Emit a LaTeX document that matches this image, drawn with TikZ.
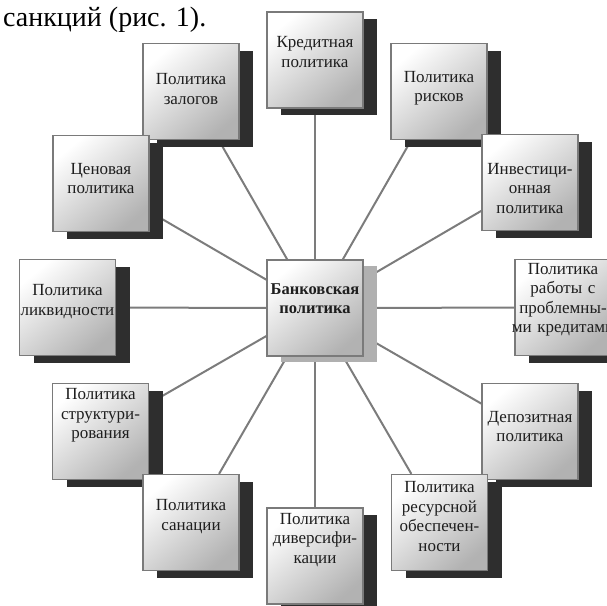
\documentclass[tikz,border=0pt]{standalone}
\usepackage{fontspec}
\setmainfont{Liberation Serif}
\usetikzlibrary{shadows,backgrounds}
\definecolor{boxline}{HTML}{7A7A7A}
\definecolor{linkgray}{HTML}{7C7C7C}
\definecolor{shadowdark}{HTML}{2E2E2E}
\definecolor{shadowlight}{HTML}{B0B0B0}
\definecolor{inktext}{HTML}{1E1E1E}
\begin{document}
\begin{tikzpicture}[x=1pt,y=-1pt,
  % y grows downwards here, which turns the shading upside down as well
  boxbase/.style={draw=boxline, line width=1.3pt, minimum width=96pt, minimum height=96pt,
    inner sep=0pt, top color=white, middle color=black!4, bottom color=black!30,
    shading angle=40},
  pbox/.style={boxbase,
    drop shadow={shadow xshift=14pt, shadow yshift=-7pt, fill=shadowdark, opacity=1}},
  cbox/.style={boxbase,
    drop shadow={shadow xshift=14pt, shadow yshift=-6pt, fill=shadowlight, opacity=1}},
  ptext/.style={text width=110pt, align=center, inner sep=0pt, text=inktext,
    font=\fontsize{17}{19.5}\selectfont},
  ctext/.style={ptext, font=\fontsize{16.5}{19}\selectfont\bfseries},
  link/.style={draw=linkgray, line width=2pt}]
\useasboundingbox (0,0) rectangle (607,605);

% caption fragment above the scheme
\node[anchor=base west, inner sep=0pt, font=\fontsize{28}{30}\selectfont] (hdr) at (3,27) {санкций (рис. 1).};

% central box
\node[cbox] (c) at (315,308) {};

% surrounding boxes
\node[pbox] (n1)  at (315,60)    {};
\node[pbox] (n12) at (191,91.5)  {};
\node[pbox] (n11) at (101,183.5) {};
\node[pbox] (n10) at (67.5,307.5) {};
\node[pbox] (n9)  at (100.5,431.5) {};
\node[pbox] (n8)  at (191,522.5) {};
\node[pbox] (n7)  at (315,556)   {};
\node[pbox] (n2)  at (439,91.5)  {};
\node[pbox] (n3)  at (530,182.5) {};
\node[pbox] (n4)  at (563,307.5) {};
\node[pbox] (n5)  at (530,431.5) {};
\node[pbox] (n6)  at (439.5,522.5) {};

% connectors from the centre to every box
\begin{pgfonlayer}{background}
  \foreach \k in {n1,n2,n3,n4,n5,n6,n7,n8,n9,n10,n11,n12}
    \draw[link] (c) -- (\k);
\end{pgfonlayer}

% box captions
\node[ctext, yshift=9pt]   (ct)   at (c)   {Банковская\\политика};
\node[ptext, yshift=8pt]   (n1t)  at (n1)  {Кредитная\\политика};
\node[ptext, yshift=3.5pt] (n2t)  at (n2)  {Политика\\рисков};
\node[ptext, yshift=-6pt]  (n3t)  at (n3)  {Инвестици-\\онная\\политика};
\node[ptext, yshift=8pt]   (n4t)  at (n4)  {Политика\\работы с\\проблемны-\\ми кредитами};
\node[ptext, yshift=5pt]   (n5t)  at (n5)  {Депозитная\\политика};
\node[ptext, yshift=6pt]   (n6t)  at (n6)  {Политика\\ресурсной\\обеспечен-\\ности};
\node[ptext, yshift=16pt]  (n7t)  at (n7)  {Политика\\диверсифи-\\кации};
\node[ptext, yshift=6pt]   (n8t)  at (n8)  {Политика\\санации};
\node[ptext, yshift=16pt]  (n9t)  at (n9)  {Политика\\структури-\\рования};
\node[ptext, yshift=6pt]   (n10t) at (n10) {Политика\\ликвидности};
\node[ptext, yshift=5pt]   (n11t) at (n11) {Ценовая\\политика};
\node[ptext, yshift=2.5pt] (n12t) at (n12) {Политика\\залогов};
\end{tikzpicture}
\end{document}
